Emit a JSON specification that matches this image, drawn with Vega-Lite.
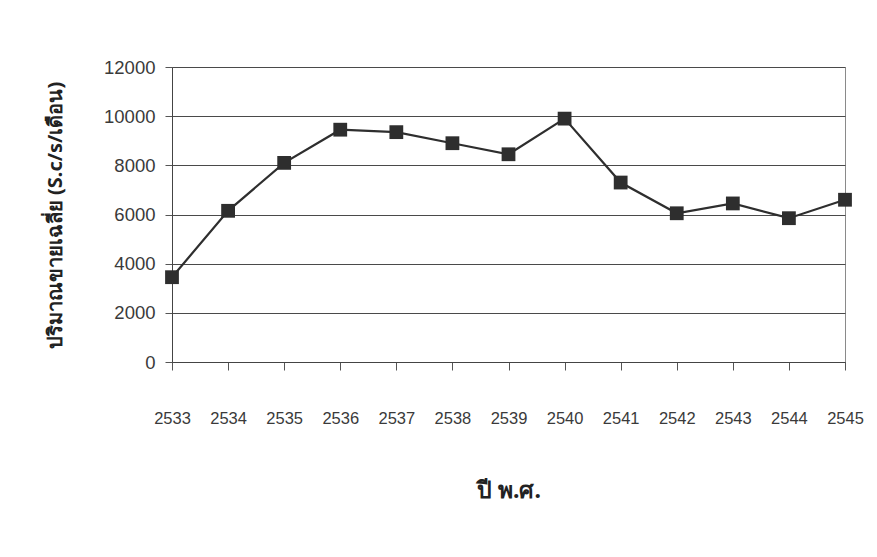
{
  "$schema": "https://vega.github.io/schema/vega-lite/v6.json",
  "autosize": {"type": "none"},
  "width": 673,
  "height": 295,
  "padding": {"left": 172, "top": 67, "right": 32, "bottom": 195},
  "background": "#ffffff",
  "config": {
    "view": {"stroke": "#8a8a8a", "strokeWidth": 1},
    "axis": {"labelFont": "Liberation Sans", "titleFont": "Noto Sans", "labelColor": "#3a3a3a", "titleColor": "#222222"}
  },
  "data": {
    "values": [
      {"year": "2533", "value": 3450},
      {"year": "2534", "value": 6150},
      {"year": "2535", "value": 8100},
      {"year": "2536", "value": 9450},
      {"year": "2537", "value": 9350},
      {"year": "2538", "value": 8900},
      {"year": "2539", "value": 8450},
      {"year": "2540", "value": 9900},
      {"year": "2541", "value": 7300},
      {"year": "2542", "value": 6050},
      {"year": "2543", "value": 6450},
      {"year": "2544", "value": 5850},
      {"year": "2545", "value": 6600}
    ]
  },
  "encoding": {
    "x": {
      "field": "year", "type": "ordinal",
      "scale": {"type": "point", "padding": 0},
      "axis": {
        "title": "ปี พ.ศ.",
        "labelAngle": 0,
        "labelFontSize": 16.5,
        "labelPadding": 40,
        "tickSize": 8,
        "tickColor": "#555555",
        "domainColor": "#444444",
        "titleFontSize": 23,
        "titleFontWeight": "bold",
        "titleBaseline": "middle",
        "titleY": 128,
        "grid": false
      }
    },
    "y": {
      "field": "value", "type": "quantitative",
      "scale": {"domain": [0, 12000], "nice": false},
      "axis": {
        "title": "ปริมาณขายเฉลี่ย (S.c/s/เดือน)",
        "values": [0, 2000, 4000, 6000, 8000, 10000, 12000],
        "format": "d",
        "labelFontSize": 18.5,
        "labelPadding": 10,
        "tickSize": 7,
        "tickColor": "#555555",
        "domainColor": "#444444",
        "gridColor": "#4a4a4a",
        "gridWidth": 1.2,
        "titleFontSize": 20,
        "titleFontWeight": "bold",
        "titleBaseline": "middle",
        "titleX": -117,
        "titleY": 148,
        "titleAngle": -90
      }
    }
  },
  "layer": [
    {"mark": {"type": "line", "color": "#2e2e2e", "strokeWidth": 2.2}},
    {"mark": {"type": "point", "shape": "square", "filled": true, "size": 190, "color": "#2e2e2e", "opacity": 1}}
  ]
}
